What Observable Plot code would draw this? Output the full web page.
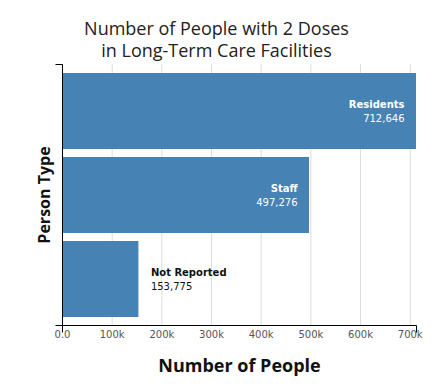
<!DOCTYPE html>
<html>
<head>
<meta charset="utf-8">
<script src="https://cdn.jsdelivr.net/npm/d3@7"></script>
<script src="https://cdn.jsdelivr.net/npm/@observablehq/plot@0.6"></script>
<style>
  html, body { margin: 0; padding: 0; background: #fff; }
  #wrap { width: 440px; height: 388px; overflow: hidden; }
  #title {
    width: 433px; height: 60px; box-sizing: border-box; padding-top: 17px;
    text-align: center; font-family: "Open Sans", sans-serif; font-size: 18px;
    line-height: 22px; color: #222;
  }
  svg { display: block; }
</style>
</head>
<body>
<div id="wrap">
  <div id="title">Number of People with 2 Doses<br>in Long-Term Care Facilities</div>
  <div id="chart"></div>
</div>
<script>
const categories = ["Residents", "Staff", "Not Reported"];
const values = [712646, 497276, 153775];
const tickValues = [0, 100000, 200000, 300000, 400000, 500000, 600000, 700000];
const tickLabels = ["0.0", "100k", "200k", "300k", "400k", "500k", "600k", "700k"];
const xTitle = "Number of People";
const yTitle = "Person Type";

const fmt = d3.format(",");
const data = categories.map((c, i) => ({ type: c, count: values[i], label: fmt(values[i]) }));
const maxVal = d3.max(values);
const inside = data.filter(d => d.count > maxVal * 0.3);
const outside = data.filter(d => d.count <= maxVal * 0.3);

function domains(index, scales, vals, dims) {
  const { width, height, marginLeft, marginTop, marginRight, marginBottom } = dims;
  const L = marginLeft + 0.5, T = marginTop + 0.5, B = height - marginBottom + 0.5, R = width - marginRight + 0.5;
  const g = d3.create("svg:g").attr("fill", "none").attr("stroke", "#000").attr("stroke-width", 1);
  g.append("path").attr("d", `M${L - 7},${T}H${L}V${B}H${L - 7}`);
  g.append("path").attr("d", `M${L},${B + 7}V${B}H${R}V${B + 7}`);
  return g.node();
}

const labelFont = "DejaVu Sans, Verdana, sans-serif";

const chart = Plot.plot({
  width: 440,
  height: 328,
  marginTop: 4,
  marginBottom: 63,
  marginLeft: 62,
  marginRight: 24,
  x: { domain: [0, maxVal], nice: false, axis: null },
  y: { domain: categories, padding: 0.1, axis: null },
  marks: [
    Plot.ruleX(tickValues, { stroke: "#dcdcdc", strokeWidth: 1 }),
    Plot.barX(data, { x: "count", y: "type", fill: "#4682b4" }),
    Plot.text(inside, { x: "count", y: "type", text: "type", textAnchor: "end", dx: -12, dy: -7,
      fill: "#fff", fontWeight: "bold", fontSize: 10, fontFamily: labelFont }),
    Plot.text(inside, { x: "count", y: "type", text: "label", textAnchor: "end", dx: -12, dy: 7,
      fill: "#fff", fontSize: 10, fontFamily: labelFont }),
    Plot.text(outside, { x: "count", y: "type", text: "type", textAnchor: "start", dx: 12, dy: -7,
      fill: "#111", fontWeight: "bold", fontSize: 10, fontFamily: labelFont }),
    Plot.text(outside, { x: "count", y: "type", text: "label", textAnchor: "start", dx: 12, dy: 7,
      fill: "#111", fontSize: 10, fontFamily: labelFont }),
    Plot.axisX(tickValues, {
      anchor: "bottom", tickSize: 0, tickPadding: 5, label: null,
      tickFormat: d => tickLabels[tickValues.indexOf(d)],
      fontSize: 10, fontFamily: labelFont, color: "#555"
    }),
    domains,
    Plot.text([xTitle], { frameAnchor: "bottom", text: d => d, dy: 41, lineAnchor: "middle",
      fontSize: 18, fontWeight: "bold", fontFamily: "Open Sans, sans-serif", fill: "#111" }),
    Plot.text([yTitle], { frameAnchor: "left", text: d => d, dx: -18, rotate: -90,
      textAnchor: "middle", lineAnchor: "middle",
      fontSize: 16, fontWeight: "bold", fontFamily: "Open Sans, sans-serif", fill: "#111" })
  ]
});
document.getElementById("chart").appendChild(chart);
</script>
</body>
</html>
